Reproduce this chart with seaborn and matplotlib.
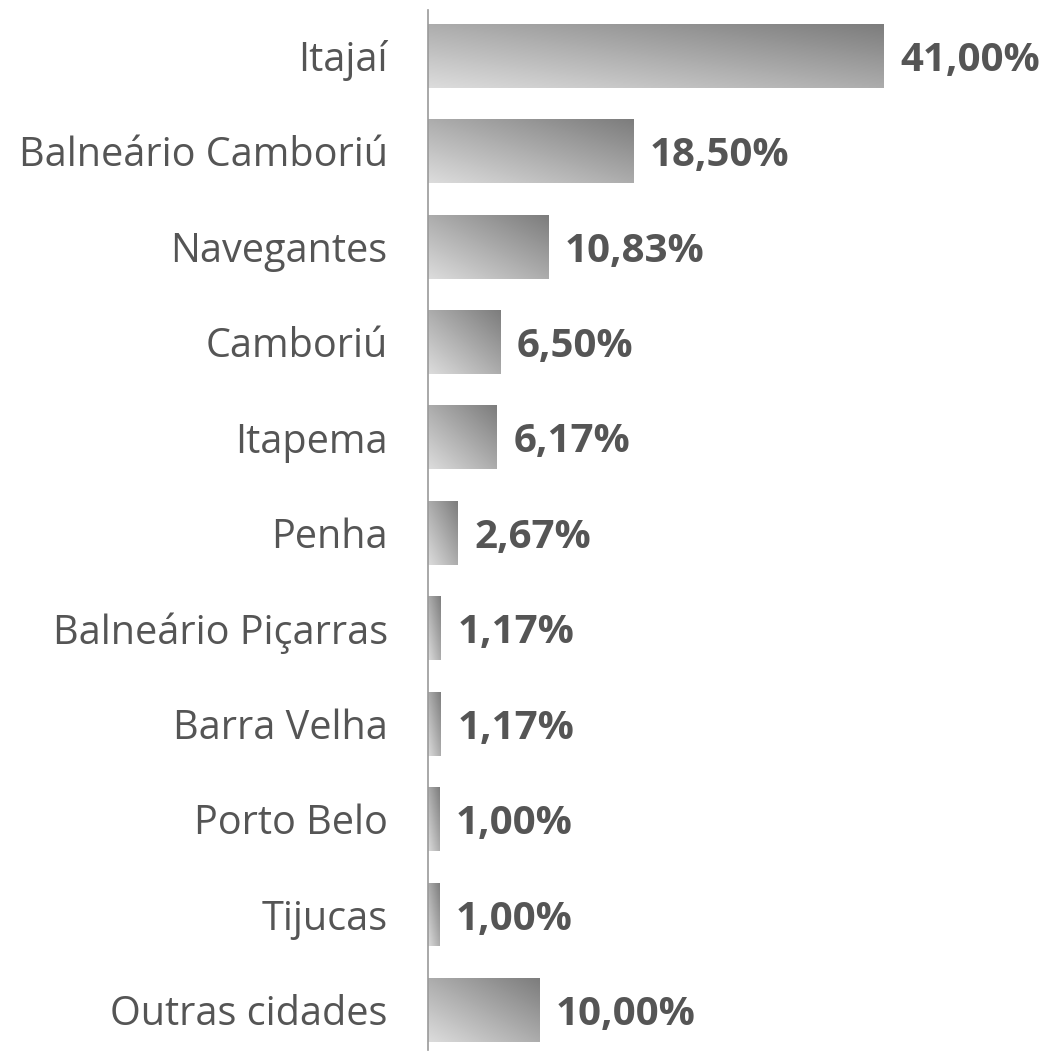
import numpy as np
import pandas as pd
import matplotlib
matplotlib.use("Agg")
import matplotlib.pyplot as plt
from matplotlib.colors import LinearSegmentedColormap
import seaborn as sns

cidades = ["Itajaí", "Balneário Camboriú", "Navegantes", "Camboriú", "Itapema", "Penha",
           "Balneário Piçarras", "Barra Velha", "Porto Belo", "Tijucas", "Outras cidades"]
percentuais = [41.00, 18.50, 10.83, 6.50, 6.17, 2.67, 1.17, 1.17, 1.00, 1.00, 10.00]

df = pd.DataFrame({"cidade": cidades, "pct": percentuais})

sns.set_style("white")
plt.rcParams["font.family"] = ["Open Sans", "DejaVu Sans"]

fig = plt.figure(figsize=(10.51, 10.51), dpi=100)
ax = fig.add_axes([428 / 1051, 1 / 1051, 1 - 428 / 1051, 1040 / 1051])

sns.barplot(data=df, x="pct", y="cidade", orient="h", width=0.67, color="#aaaaaa", ax=ax)

# gradiente diagonal em cada barra (claro embaixo/esquerda, escuro em cima/direita)
cmap = LinearSegmentedColormap.from_list("cinza", ["#dcdcdc", "#7d7d7d"])
n = 64
u = np.linspace(0, 1, n)
U, R = np.meshgrid(u, u)
Z = (U + (1 - R)) / 2
for p in ax.patches:
    x0, y0, w, h = p.get_x(), p.get_y(), p.get_width(), p.get_height()
    im = ax.imshow(Z, cmap=cmap, vmin=0, vmax=1, origin="upper", aspect="auto",
                   extent=(x0, x0 + w, y0 + h, y0), interpolation="bilinear", zorder=2)
    im.set_clip_path(p)
    p.set_facecolor("none")
    p.set_edgecolor("none")

for i, v in enumerate(percentuais):
    ax.text(v + 1.5, i, f"{v:.2f}%".replace(".", ","), va="center_baseline", ha="left",
            fontsize=29, fontweight="bold", color="#555555")

ax.set_xlim(0, 56.1)
ax.set_ylim(10.42, -0.48)
ax.set_xlabel("")
ax.set_ylabel("")
ax.set_xticks([])
ax.tick_params(axis="y", length=0, pad=29, labelsize=28.5, labelcolor="#555555")
for s in ["top", "right", "bottom"]:
    ax.spines[s].set_visible(False)
ax.spines["left"].set_color("#999999")
ax.spines["left"].set_linewidth(1.2)

fig.savefig("out.png", dpi=100)
